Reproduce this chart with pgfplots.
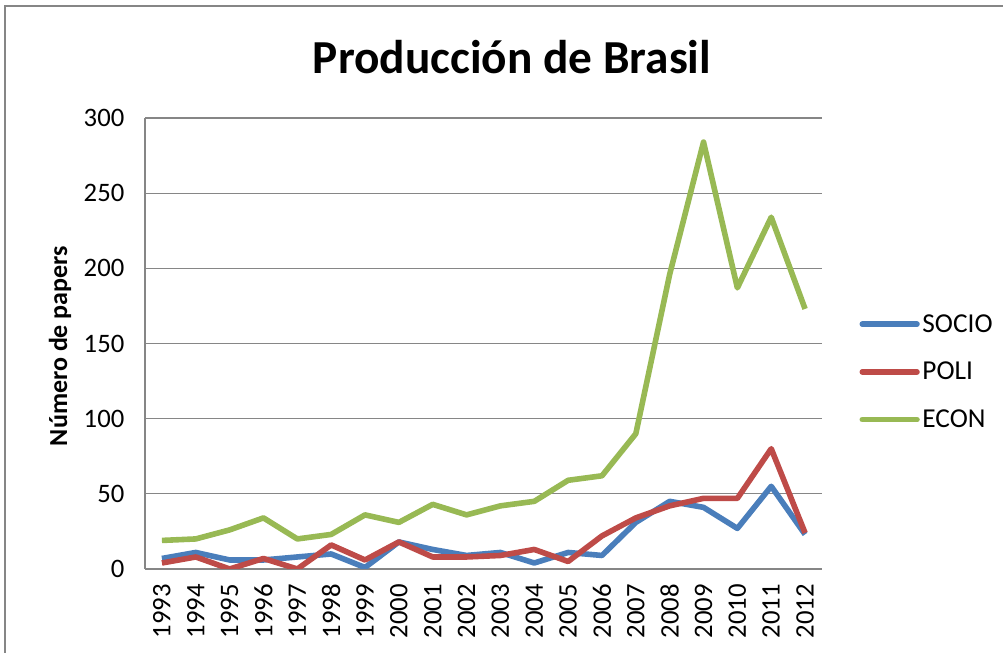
\documentclass[border=0pt]{standalone}
\usepackage{pgfplots}
\pgfplotsset{compat=1.18}
\usepackage{fontspec}
\setmainfont{Carlito}
\definecolor{socio}{HTML}{4A7EBB}
\definecolor{poli}{HTML}{BE4B48}
\definecolor{econ}{HTML}{98B954}
\definecolor{gridg}{HTML}{868686}
\begin{document}
\begin{tikzpicture}[x=0.75pt,y=0.75pt]
\useasboundingbox (0,0) rectangle (1003,653);
\draw[gridg,line width=1.5pt] (5,-5) -- (5,647) -- (1010,647);
\begin{axis}[
  at={(108.75pt,63pt)}, anchor=south west,
  scale only axis, width=507.75pt, height=338.25pt,
  xmin=1992.5, xmax=2012.5, ymin=0, ymax=300,
  xtick={1993,...,2012}, ytick={0,50,...,300},
  axis x line=bottom, axis y line=left,
  axis line style={gridg,line width=0.9pt,-},
  ymajorgrids, grid style={gridg,line width=0.9pt},
  major tick length=0pt,
  /pgf/number format/assume math mode=true,
  /pgf/number format/1000 sep={},
  tick label style={font=\fontsize{20}{24}\selectfont},
  xticklabel style={rotate=90,anchor=east,xshift=0pt},
  yticklabel style={xshift=-12pt},
  xticklabel shift=8pt,
  legend style={at={(rel axis cs:1.055,0.437)},anchor=west,draw=none,fill=none,
    font=\fontsize{20.5}{24}\selectfont,row sep=17pt,inner sep=0pt},
  legend cell align=left,
  legend image code/.code={\draw[#1,line cap=round] (0pt,0pt) -- (41pt,0pt);},
  every axis plot/.append style={line width=4.2pt,line join=round,no markers},
]
\addplot[socio] coordinates {
(1993,7)(1994,11)(1995,6)(1996,6)(1997,8)(1998,10)(1999,1)(2000,18)(2001,13)(2002,9)
(2003,11)(2004,4)(2005,11)(2006,9)(2007,31)(2008,45)(2009,41)(2010,27)(2011,55)(2012,23)};
\addplot[poli] coordinates {
(1993,4)(1994,8)(1995,0)(1996,7)(1997,0)(1998,16)(1999,6)(2000,18)(2001,8)(2002,8)
(2003,9)(2004,13)(2005,5)(2006,22)(2007,34)(2008,42)(2009,47)(2010,47)(2011,80)(2012,24)};
\addplot[econ] coordinates {
(1993,19)(1994,20)(1995,26)(1996,34)(1997,20)(1998,23)(1999,36)(2000,31)(2001,43)(2002,36)
(2003,42)(2004,45)(2005,59)(2006,62)(2007,90)(2008,196)(2009,284)(2010,187)(2011,234)(2012,173)};
\legend{SOCIO,POLI,ECON}
\end{axis}
\node[font=\bfseries\fontsize{35.5}{42}\selectfont] at (512,596) {Producción de Brasil};
\node[font=\bfseries\fontsize{19.5}{23}\selectfont,rotate=90] at (60,307) {Número de papers};
\end{tikzpicture}
\end{document}
